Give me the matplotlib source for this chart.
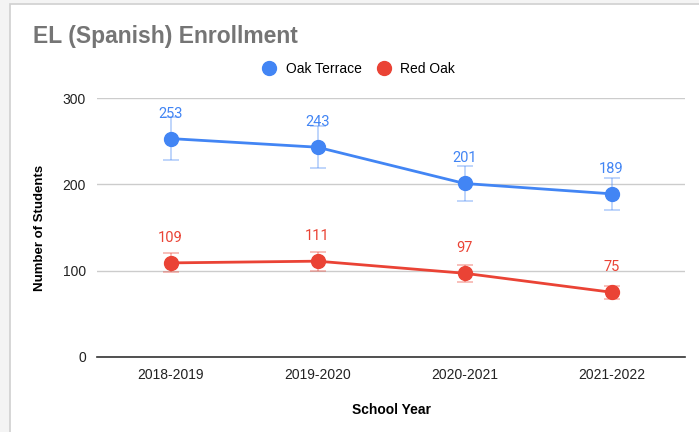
import matplotlib
matplotlib.use("Agg")
from matplotlib import pyplot as plt
from matplotlib.lines import Line2D
from matplotlib.patches import Rectangle

plt.rcParams['font.family'] = ['Liberation Sans', 'DejaVu Sans']

years = ["2018-2019", "2019-2020", "2020-2021", "2021-2022"]
oak_terrace = [253, 243, 201, 189]
red_oak = [109, 111, 97, 75]
error_pct = 10  # percent error bars, as in the sheet

blue = "#4285F4"
red = "#EA4335"

fig = plt.figure(figsize=(6.99, 4.32), dpi=100)
fig.patch.set_facecolor("#f4f4f4")
# white card with grey border like the screenshot
card = Rectangle((10 / 699, -0.01), 1, 1.01 - 4 / 432, transform=fig.transFigure,
                 facecolor="white", edgecolor="#d0d0d0", linewidth=1.2, zorder=-10)
fig.add_artist(card)

ax = fig.add_axes([97 / 699, 75 / 432, 588 / 699, 259 / 432])
ax.set_facecolor("none")
x = list(range(len(years)))

for vals, col in [(oak_terrace, blue), (red_oak, red)]:
    errs = [v * error_pct / 100 for v in vals]
    ax.errorbar(x, vals, yerr=errs, fmt="none", ecolor=col, alpha=0.4,
                elinewidth=1.2, capsize=6, capthick=1.2, zorder=2)
    ax.plot(x, vals, color=col, linewidth=2, marker="o", markersize=10, zorder=3)
    for xi, v in zip(x, vals):
        ax.annotate(str(v), (xi, v), xytext=(0, 18), textcoords="offset points",
                    ha="center", va="center", color=col, fontsize=10.5,
                    family=["Roboto", "DejaVu Sans"])

ax.set_xlim(-0.5, 3.5)
ax.set_ylim(0, 300)
ax.set_yticks([0, 100, 200, 300])
ax.set_xticks(x)
ax.set_xticklabels(years)
ax.tick_params(length=0, labelsize=10, labelcolor="#222222", pad=8)
ax.tick_params(axis="y", pad=8)
ax.grid(axis="y", color="#cccccc", linewidth=1)
ax.set_axisbelow(True)
for s in ["top", "right", "left"]:
    ax.spines[s].set_visible(False)
ax.spines["bottom"].set_color("#333333")
ax.spines["bottom"].set_linewidth(1.2)

ax.set_xlabel("School Year", fontsize=10, fontweight="bold", labelpad=15)
ax.set_ylabel("Number of Students", fontsize=9.5, fontweight="bold", labelpad=12)

fig.text(33 / 699, 1 - 37 / 432, "EL (Spanish) Enrollment", fontsize=16.5,
         fontweight="bold", color="#757575", va="center", ha="left")

handles = [Line2D([], [], linestyle="none", marker="o", markersize=10, color=blue),
           Line2D([], [], linestyle="none", marker="o", markersize=10, color=red)]
fig.legend(handles, ["Oak Terrace", "Red Oak"], loc="center",
           bbox_to_anchor=(358 / 699, 1 - 69 / 432), ncol=2, frameon=False,
           fontsize=10, handletextpad=0.6, columnspacing=1.0, handlelength=1.2)

fig.savefig("out.png", dpi=100)
